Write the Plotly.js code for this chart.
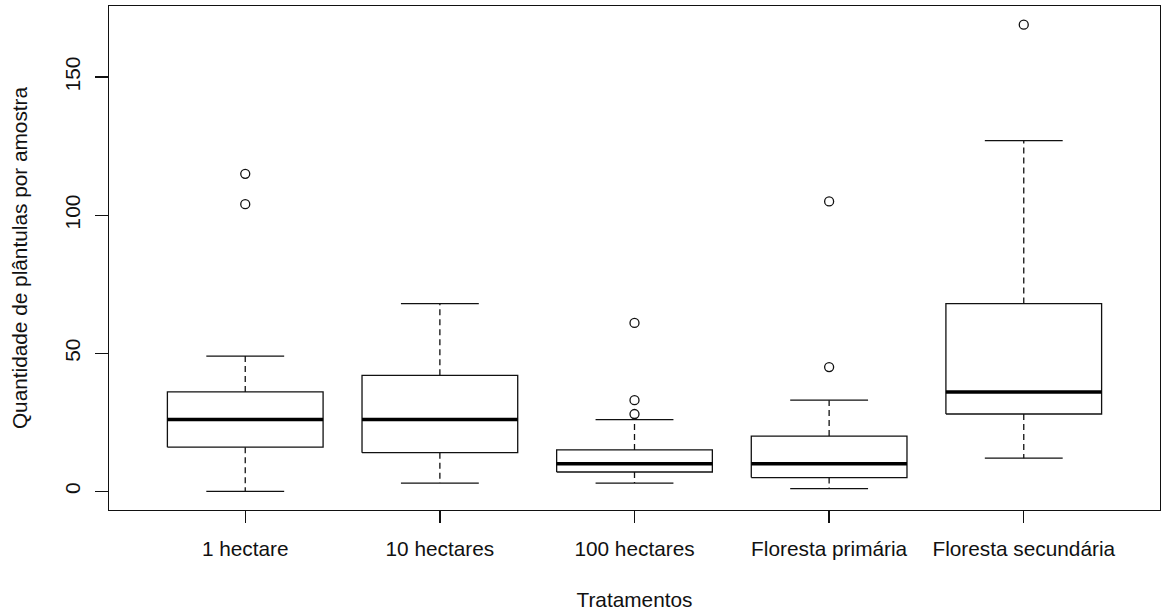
<!DOCTYPE html>
<html>
<head>
<meta charset="utf-8">
<script src="https://cdn.plot.ly/plotly-3.0.1.min.js"></script>
<style>
  html, body { margin: 0; padding: 0; background: #ffffff; }
  #chart { width: 1161px; height: 613px; }
</style>
</head>
<body>
<div id="chart"></div>
<script>
// ---- data ----
const categories = ["1 hectare", "10 hectares", "100 hectares", "Floresta primária", "Floresta secundária"];
const lowerWhisker = [0, 3, 3, 1, 12];
const q1 = [16, 14, 7, 5, 28];
const medians = [26, 26, 10, 10, 36];
const q3 = [36, 42, 15, 20, 68];
const upperWhisker = [49, 68, 26, 33, 127];
const outlierGroup = [0, 0, 2, 2, 2, 3, 3, 4];
const outlierValues = [104, 115, 28, 33, 61, 45, 105, 169];
const yTickValues = [0, 50, 100, 150];
const xTitle = "Tratamentos";
const yTitle = "Quantidade de plântulas por amostra";

// ---- build traces ----
const pos = categories.map((c, i) => i + 1);
const half = 0.4, capHalf = 0.2;
const ink = "#111111";

const boxX = [], boxY = [], medX = [], medY = [], whX = [], whY = [], capX = [], capY = [];
pos.forEach((p, i) => {
  boxX.push(p - half, p + half, p + half, p - half, p - half, null);
  boxY.push(q1[i], q1[i], q3[i], q3[i], q1[i], null);
  medX.push(p - half, p + half, null);
  medY.push(medians[i], medians[i], null);
  whX.push(p, p, null, p, p, null);
  whY.push(q3[i], upperWhisker[i], null, q1[i], lowerWhisker[i], null);
  capX.push(p - capHalf, p + capHalf, null, p - capHalf, p + capHalf, null);
  capY.push(upperWhisker[i], upperWhisker[i], null, lowerWhisker[i], lowerWhisker[i], null);
});

const traces = [
  { type: "scatter", mode: "lines", x: whX, y: whY, line: { color: ink, width: 1.3, dash: "6px,4px" }, hoverinfo: "skip" },
  { type: "scatter", mode: "lines", x: capX, y: capY, line: { color: ink, width: 1.3 }, hoverinfo: "skip" },
  { type: "scatter", mode: "lines", x: boxX, y: boxY, line: { color: ink, width: 1.3 }, fill: "none", hoverinfo: "skip" },
  { type: "scatter", mode: "lines", x: medX, y: medY, line: { color: "#000000", width: 3.6 }, hoverinfo: "skip" },
  { type: "scatter", mode: "markers", x: outlierGroup.map(g => pos[g]), y: outlierValues,
    marker: { symbol: "circle-open", size: 9, color: ink, line: { width: 1.3, color: ink } } }
];

const allVals = lowerWhisker.concat(upperWhisker, outlierValues);
const yMin = Math.min(...allVals), yMax = Math.max(...allVals);
const yPad = 0.04 * (yMax - yMin);
const xPad = 0.04 * categories.length;

const font = { family: "Liberation Sans, Arial, sans-serif", size: 20.8, color: "#111111" };

const layout = {
  width: 1161, height: 613,
  margin: { l: 109, r: 1, t: 6, b: 103, pad: 0 },
  paper_bgcolor: "#ffffff", plot_bgcolor: "#ffffff",
  showlegend: false,
  font: font,
  xaxis: {
    range: [0.5 - xPad, categories.length + 0.5 + xPad],
    tickmode: "array", tickvals: pos, ticktext: categories,
    ticks: "outside", ticklen: 12, tickwidth: 1.3, tickcolor: ink,
    showline: true, mirror: true, linecolor: ink, linewidth: 1.3,
    showgrid: false, zeroline: false,
    ticklabelstandoff: 8,
    tickfont: font,
    title: { text: xTitle, font: font, standoff: 33 }
  },
  yaxis: {
    range: [yMin - yPad, yMax + yPad],
    tickmode: "array", tickvals: yTickValues, ticktext: yTickValues.map(String),
    tickangle: -90,
    ticks: "outside", ticklen: 13, tickwidth: 1.3, tickcolor: ink,
    showline: true, mirror: true, linecolor: ink, linewidth: 1.3,
    showgrid: false, zeroline: false,
    ticklabelstandoff: 6,
    tickfont: font,
    title: { text: yTitle, font: font, standoff: 28 }
  }
};

Plotly.newPlot("chart", traces, layout, { displayModeBar: false, staticPlot: true });
</script>
</body>
</html>
